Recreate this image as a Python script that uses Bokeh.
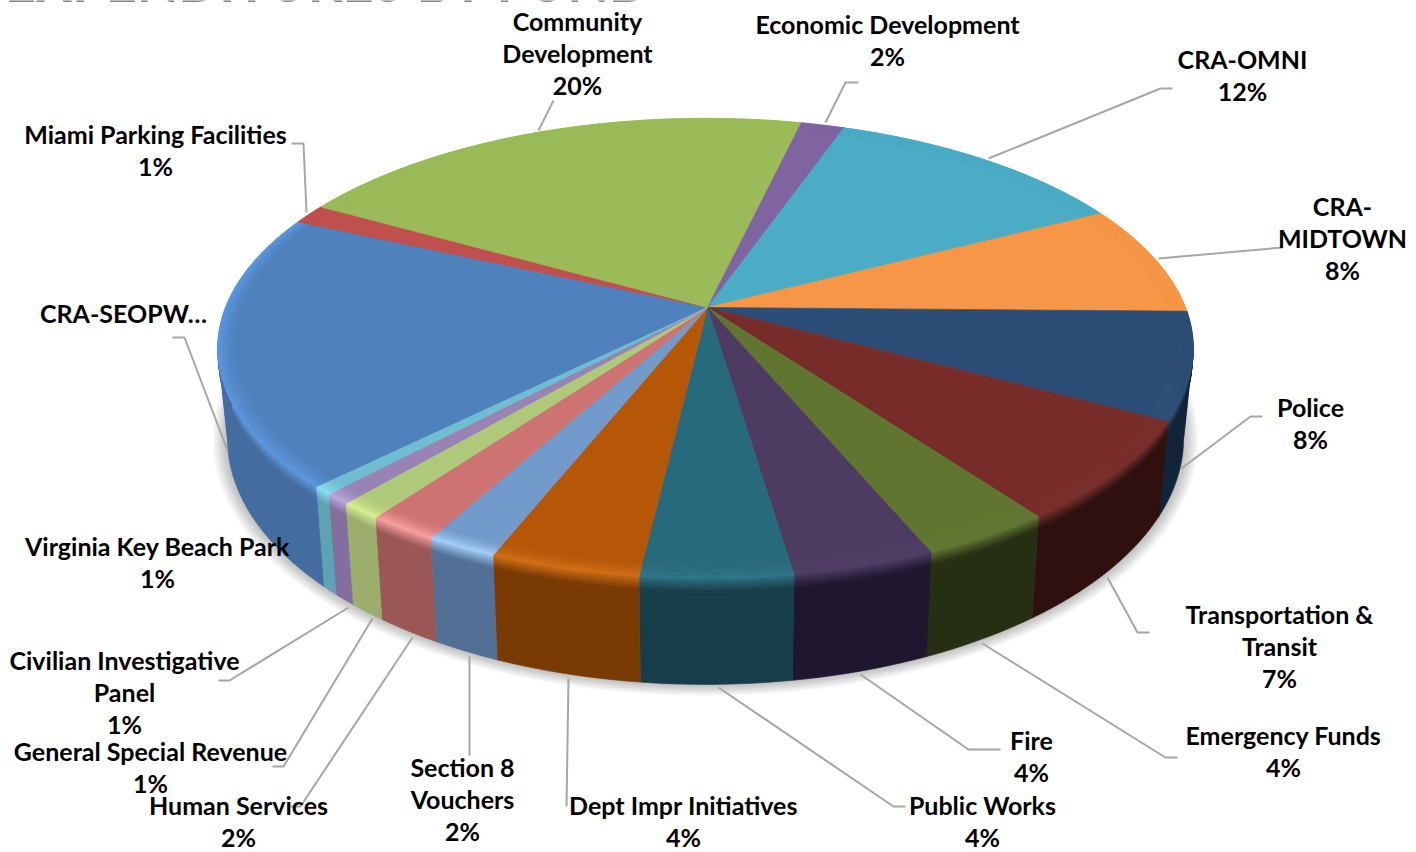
import numpy as np
from bokeh.plotting import figure
from bokeh.models import Range1d
from bokeh.core.properties import value
from bokeh.embed import file_html
from bokeh.resources import INLINE

# ---- data (clockwise, starting at the CRA-SEOPW slice) ----
slice_names = ["CRA-SEOPW", "Miami Parking Facilities", "Community Development", "Economic Development",
               "CRA-OMNI", "CRA-MIDTOWN", "Police", "Transportation & Transit", "Emergency Funds", "Fire",
               "Public Works", "Dept Impr Initiatives", "Section 8 Vouchers", "Human Services",
               "General Special Revenue", "Civilian Investigative Panel", "Virginia Key Beach Park"]
slice_values = [19.24, 1.4, 20.6, 1.7, 12.0, 7.8, 7.5, 7.1, 3.7, 4.0, 4.25, 4.21, 2.0, 2.0, 1.2, 0.75, 0.55]
label_texts = [["CRA-SEOPW…"], ["Miami Parking Facilities", "1%"], ["Community", "Development", "20%"],
               ["Economic Development", "2%"], ["CRA-OMNI", "12%"], ["CRA-", "MIDTOWN", "8%"], ["Police", "8%"],
               ["Transportation &", "Transit", "7%"], ["Emergency Funds", "4%"], ["Fire", "4%"],
               ["Public Works", "4%"], ["Dept Impr Initiatives", "4%"], ["Section 8", "Vouchers", "2%"],
               ["Human Services", "2%"], ["General Special Revenue", "1%"],
               ["Civilian Investigative", "Panel", "1%"], ["Virginia Key Beach Park", "1%"]]
title_text = "EXPENDITURES BY FUND"

# ---- styles ----
top_colors = ["#4F81BD", "#C0504D", "#9BBB59", "#8064A2", "#4BACC6", "#F79646", "#2C4D75", "#772C2A", "#5F7530",
              "#4D3B62", "#276A7C", "#B65708", "#729ACA", "#CD7371", "#AFC97A", "#9983B5", "#6FBDD1"]
high_colors = ["#5A95DC", "#C0504D", "#9BBB59", "#8064A2", "#4BACC6", "#F79646", "#2C4D75", "#772C2A", "#5F7530",
               "#4D3B62", "#2D7487", "#D06C12", "#A0CDF7", "#F79E9C", "#D5EE93", "#BCA5DB", "#88DCF1"]
rim_colors = ["#446CA0", "#8a3a38", "#708840", "#5c4875", "#347a8d", "#a8662f", "#11243A", "#2F100F", "#262F11",
              "#1F1730", "#173D48", "#7A3A03", "#527096", "#9B5755", "#9BAE6D", "#846EA0", "#5EA3B3"]
start_angle = 225.1
label_pos = [(123, 312), (155, 133), (577, 20), (887, 23), (1242, 58), (1342, 205), (1310, 406), (1279, 613),
             (1283, 734), (1031, 739), (982, 804), (683, 804), (462, 766), (238, 804), (150, 750), (124, 659),
             (157, 545)]
line_gap = 32.3
leaders = [[(227, 450), (184, 337), (172, 337)], [(306, 212), (303, 143), (291, 143)], [(538, 130), (553, 100)],
           [(825, 122), (845, 82), (858, 82)], [(988, 158), (1160, 88), (1172, 88)], [(1158, 258), (1282, 247)],
           [(1181, 468), (1250, 416), (1262, 416)], [(1107, 577), (1137, 632), (1149, 632)],
           [(982, 643), (1165, 757), (1177, 757)], [(860, 674), (968, 749), (1000, 749)],
           [(718, 687), (893, 806), (905, 806)], [(568, 678), (566, 806)], [(469, 656), (469, 755)],
           [(412, 637), (300, 806), (290, 806)], [(372, 618), (283, 766), (272, 766)],
           [(348, 607), (229, 680), (218, 680)]]

APEX_X, APEX_Y = 707, 307
CX, CY, A, B, K, DEPTH, TAPER = 705, 307, 222.8, 480, 0.178, 87, 0.02
SPLITS = [259.75, 460.25]  # where the disc is widest: rim polygons are cut there so they do not self-cross


def rgb(h):
    return np.array([int(h[i:i + 2], 16) for i in (1, 3, 5)], float)


def mix(c1, c2, t):
    c = rgb(c1) * (1 - t) + rgb(c2) * t
    return "#%02x%02x%02x" % tuple(int(round(v)) for v in c)


def surf(theta, r=1.0, t=0.0):
    th = np.radians(theta)
    u, v = r * np.sin(th), -r * np.cos(th)
    w = 1 - K * v
    x = CX + B * u / w
    y = CY + A * v / w
    return CX + (x - CX) * (1 - TAPER * t), y + t * DEPTH / w


def arc(a, b):
    return np.linspace(a, b, max(3, int((b - a) / 1.5) + 2))


vals = np.array(slice_values)
edges = start_angle + np.concatenate([[0], np.cumsum(vals)]) / vals.sum() * 360

p = figure(width=1416, height=852, output_backend="svg", toolbar_location=None,
           x_range=Range1d(0, 1416), y_range=Range1d(852, 0), min_border=0)
p.axis.visible = False
p.grid.visible = False
p.outline_line_color = None
p.background_fill_color = "white"
p.border_fill_color = "white"

# soft shadow under the disc
full = np.linspace(0, 360, 181)
sx, sy = surf(full, 1.0, 1.0)
for s in np.linspace(0.045, 0.0, 12):
    p.patch(CX + (sx - CX) * (1 + s * 0.7), 400 + (sy - 400) * (1 + s * 0.9), fill_color="#000000",
            fill_alpha=0.022, line_color=None)

xs, ys, cs = [], [], []


def add(x, y, c):
    xs.append(list(x))
    ys.append(list(y))
    cs.append(c)


# rim
for i in range(len(vals)):
    cuts = [edges[i]] + [s for s in SPLITS if edges[i] < s < edges[i + 1]] + [edges[i + 1]]
    for a0, a1 in zip(cuts[:-1], cuts[1:]):
        th = arc(a0, a1)
        grad = np.linspace(0, 0.13, 9)
        for j in range(len(grad) - 1):
            x0, y0 = surf(th, 1.0, grad[j])
            x1, y1 = surf(th, 1.0, grad[j + 1])
            add(np.r_[x0, x1[::-1]], np.r_[y0, y1[::-1]], mix(high_colors[i], rim_colors[i], (j + 1) / 8))
        x0, y0 = surf(th, 1.0, 0.13)
        x1, y1 = surf(th, 1.0, 1.0)
        add(np.r_[x0, x1[::-1]], np.r_[y0, y1[::-1]], rim_colors[i])

# top surface + bevel
R0 = 0.96
for i in range(len(vals)):
    th = arc(edges[i], edges[i + 1])
    x, y = surf(th, R0)
    add(np.r_[APEX_X, x], np.r_[APEX_Y, y], top_colors[i])
    rings = np.linspace(R0, 1.0, 9)
    for j in range(len(rings) - 1):
        x0, y0 = surf(th, rings[j])
        x1, y1 = surf(th, rings[j + 1])
        add(np.r_[x0, x1[::-1]], np.r_[y0, y1[::-1]], mix(top_colors[i], high_colors[i], ((j + 1) / 8) ** 1.5))

p.patches(xs, ys, fill_color=cs, line_color=cs, line_width=0.7)

# leader lines
p.multi_line([[q[0] for q in l] for l in leaders], [[q[1] for q in l] for l in leaders],
             line_color="#A6A6A6", line_width=2)

# labels
tx, ty, tt = [], [], []
for (lx, ly), lines in zip(label_pos, label_texts):
    for n, s in enumerate(lines):
        tx.append(lx)
        ty.append(ly + n * line_gap)
        tt.append(s)
p.text(tx, ty, text=tt, text_align="center", text_baseline="middle", text_color="#000000",
       text_font=value("Lato"), text_font_style="bold", text_font_size="25px")

# title cut by the top of the page, as in the reference
p.text([328], [-19], text=[title_text], text_align="center", text_baseline="alphabetic", text_color="#808080",
       text_font=value("Lato"), text_font_style="bold", text_font_size="54px")

open("out.html", "w").write(file_html(p, INLINE))
